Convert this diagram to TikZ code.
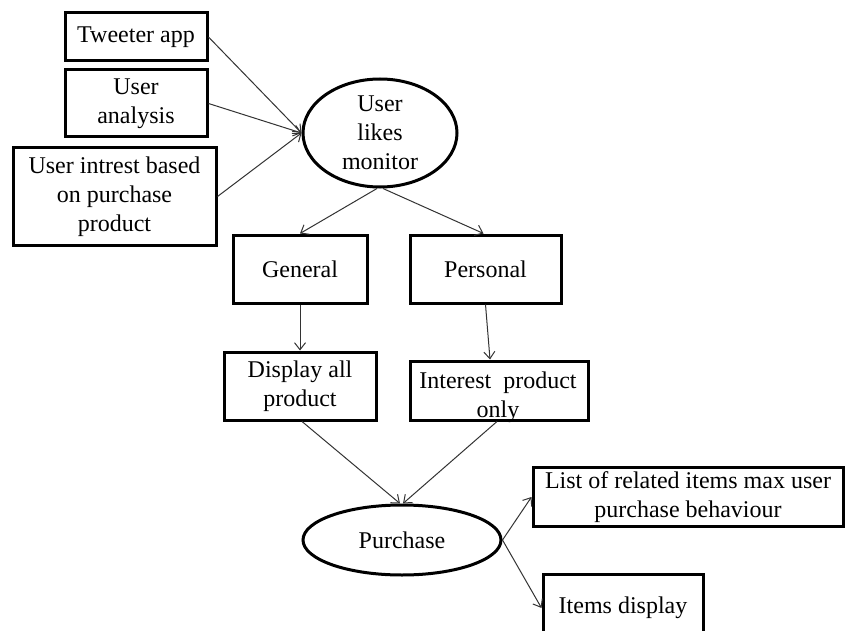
\documentclass[tikz,border=0pt]{standalone}
\usepackage{fontspec}
\setmainfont{Liberation Serif}
\usetikzlibrary{arrows.meta,shapes.geometric}
\begin{document}
\begin{tikzpicture}[x=1pt,y=-1pt,
  box/.style={draw=black,line width=3pt,rectangle,inner sep=0pt,align=center,font=\fontsize{24}{29}\selectfont},
  oval/.style={draw=black,line width=3pt,ellipse,inner sep=0pt,align=center,font=\fontsize{24}{29}\selectfont},
  conn/.style={draw=black!80,line width=1pt,-{Straight Barb[length=7pt,width=11pt,line width=1pt]}}
]
\useasboundingbox (0,0) rectangle (845,631);
\clip (0,0) rectangle (845,631);
\fill[white] (0,0) rectangle (845,631);

\node[box,minimum width=142pt,minimum height=48pt] (tw) at (136,37) {Tweeter app};
\node[box,minimum width=142pt,minimum height=67pt] (ua) at (136,103.5) {User\\analysis};
\node[box,minimum width=203pt,minimum height=97pt] (ui) at (114.5,196.5) {User intrest based\\on purchase\\product};
\node[oval,minimum width=154pt,minimum height=108pt] (ulm) at (380,133) {User\\likes\\monitor};
\node[box,minimum width=134pt,minimum height=68pt] (gen) at (300,269) {General};
\node[box,minimum width=151pt,minimum height=68pt] (per) at (485.5,269) {Personal};
\node[box,minimum width=152pt,minimum height=68pt] (dis) at (300,386) {Display all\\product};
\node[box,minimum width=178pt,minimum height=59pt] (int) at (499,390.5) {};
\node[font=\fontsize{24}{29}\selectfont,align=center,inner sep=0pt] (intt) at (498,397) {Interest\ \ product\\only};
\node[oval,minimum width=198pt,minimum height=70pt] (pur) at (402,540) {Purchase};
\node[box,minimum width=310pt,minimum height=59pt] (lst) at (688,497) {List of related items max user\\purchase behaviour};
\node[box,minimum width=160pt,minimum height=68pt] (itm) at (623,608) {Items display};

\draw[conn] (tw.east) -- (ulm.west);
\draw[conn] (ua.east) -- (ulm.west);
\draw[conn] (ui.east) -- (ulm.west);
\draw[conn] ([xshift=-3pt]ulm.south) -- (gen.north);
\draw[conn] ([xshift=3pt]ulm.south) -- ([xshift=-2pt]per.north);
\draw[conn] (gen.south) -- (dis.north);
\draw[conn] (per.south) -- ([xshift=-9pt]int.north);
\draw[conn] ([xshift=2pt]dis.south) -- ([xshift=-2pt]pur.north);
\draw[conn] ([xshift=-2pt]int.south) -- ([xshift=1pt]pur.north);
\draw[conn] (pur.east) -- (lst.west);
\draw[conn] (pur.east) -- (itm.west);
\end{tikzpicture}
\end{document}
